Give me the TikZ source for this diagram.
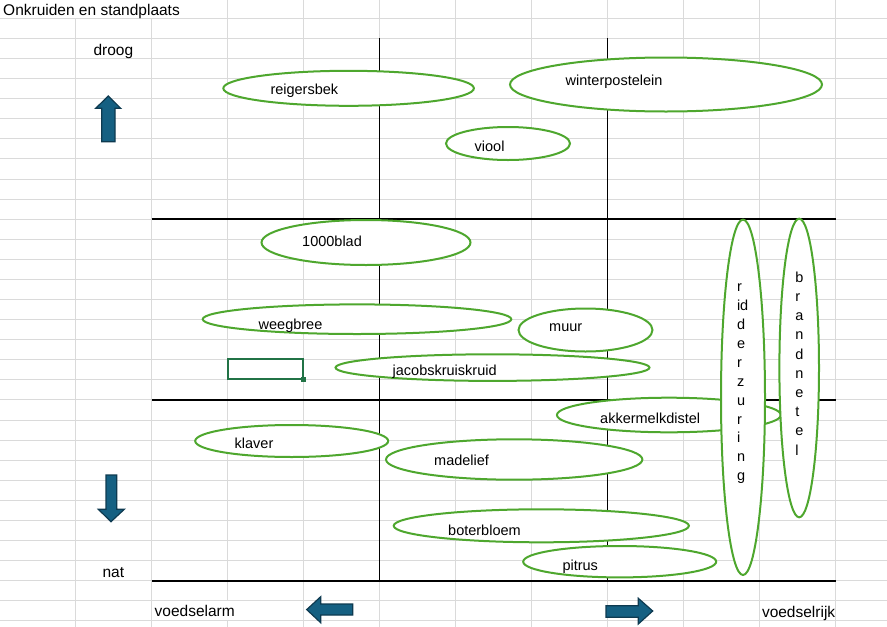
\documentclass[tikz,border=0pt]{standalone}
\usepackage{fontspec}
\setmainfont{Liberation Sans}
\newfontfamily\shapefont{Liberation Sans}
\usetikzlibrary{shapes.geometric}
\definecolor{gridc}{HTML}{DADADA}
\definecolor{leaf}{HTML}{4EA72E}
\definecolor{arrowfill}{HTML}{156082}
\definecolor{arrowline}{HTML}{0E3A50}
\definecolor{selgreen}{HTML}{217346}
\begin{document}
\begin{tikzpicture}[x=1pt,y=-1pt,
  gridline/.style={draw=gridc, line width=1pt},
  axisline/.style={draw=black, line width=2.2pt},
  divider/.style={draw=black, line width=1.3pt},
  weed/.style={ellipse, draw=leaf, fill=white, line width=2pt, inner sep=0pt, outer sep=0pt},
  weedtext/.style={anchor=base west, inner sep=0pt, font=\shapefont\fontsize{14.5}{18}\selectfont},
  celltext/.style={inner sep=0pt, font=\fontsize{15.5}{18}\selectfont},
  bigarrow/.style={fill=arrowfill, draw=arrowline, line width=1.2pt, line join=miter}
]
\useasboundingbox (0,0) rectangle (887,627);
% spreadsheet grid
\foreach \k in {0,...,30} \draw[gridline] (0,{18.4+20.08*\k}) -- (887,{18.4+20.08*\k});
\foreach \j in {2,...,10} \draw[gridline] ({75.6+76*\j},0) -- ({75.6+76*\j},627);
\foreach \j in {0,1} \draw[gridline] ({75.6+76*\j},18.4) -- ({75.6+76*\j},627);
\fill[white] (226.5,{18.4+20.08*29+0.6}) rectangle (228.7,{18.4+20.08*30-0.6});
% quadrant lines
\draw[divider] (379.6,{18.4+20.08}) -- (379.6,{18.4+20.08*28});
\draw[divider] (607.6,{18.4+20.08}) -- (607.6,{18.4+20.08*28});
\foreach \k in {10,19,28} \draw[axisline] (151.6,{18.4+20.08*\k}) -- (835.6,{18.4+20.08*\k});
% weeds
\node[weed, minimum width=250.6pt, minimum height=35pt] (reigersbek) at (348.6,88.3) {};
\node[weedtext] (reigersbek-t) at (270.3,94.5) {reigersbek};
\node[weed, minimum width=312pt, minimum height=54pt] (winterpostelein) at (666,84.5) {};
\node[weedtext] (winterpostelein-t) at (565.5,85) {winterpostelein};
\node[weed, minimum width=124pt, minimum height=33pt] (viool) at (508,143.5) {};
\node[weedtext] (viool-t) at (474.5,151.7) {viool};
\node[weed, minimum width=209pt, minimum height=45pt] (duizendblad) at (366,242.5) {};
\node[weedtext] (duizendblad-t) at (302,246.5) {1000blad};
\node[weed, minimum width=308.6pt, minimum height=29.6pt] (weegbree) at (357,319.2) {};
\node[weedtext] (weegbree-t) at (258.5,329) {weegbree};
\node[weed, minimum width=134pt, minimum height=43pt] (muur) at (585.5,330) {};
\node[weedtext] (muur-t) at (549,331.5) {muur};
\node[weed, minimum width=314pt, minimum height=26.6pt] (jacobs) at (492.5,367.6) {};
\node[weedtext] (jacobs-t) at (392.5,375) {jacobskruiskruid};
\node[weed, minimum width=224pt, minimum height=34.6pt] (akker) at (668.9,415) {};
\node[weedtext] (akker-t) at (600,423.3) {akkermelkdistel};
\node[weed, minimum width=193pt, minimum height=32pt] (klaver) at (291.7,441) {};
\node[weedtext] (klaver-t) at (234.5,448.3) {klaver};
\node[weed, minimum width=256.4pt, minimum height=40.4pt] (madelief) at (514.2,459.5) {};
\node[weedtext] (madelief-t) at (434,465) {madelief};
\node[weed, minimum width=295.2pt, minimum height=33pt] (boterbloem) at (541.3,525.8) {};
\node[weedtext] (boterbloem-t) at (448,535) {boterbloem};
\node[weed, minimum width=193pt, minimum height=31.4pt] (pitrus) at (619.7,561.7) {};
\node[weedtext] (pitrus-t) at (562.3,570.7) {pitrus};
\node[weed, minimum width=44pt, minimum height=355.4pt] (ridderzuring) at (743,397.3) {};
\foreach \l [count=\i] in {r,id,d,e,r,z,u,r,i,n,g}
  \node[weedtext] (rz\i) at (736.8,{291.7+18.9*(\i-1)}) {\l};
\node[weed, minimum width=39.6pt, minimum height=298.6pt] (brandnetel) at (799.2,368) {};
\foreach \l [count=\i] in {b,r,a,n,d,n,e,t,e,l}
  \node[weedtext] (bn\i) at (795.2,{282.3+19.19*(\i-1)}) {\l};
% selected cell
\draw[selgreen, line width=2pt] (227.6,359.3) rectangle (303.4,379);
\fill[selgreen] (301,377) rectangle (306,382);
% block arrows
\draw[bigarrow] (108.3,96) -- (120.7,108.3) -- (115,108.3) -- (115,141.7) -- (101.7,141.7) -- (101.7,108.3) -- (95.7,108.3) -- cycle;
\draw[bigarrow] (106,475) -- (116.7,475) -- (116.7,509.3) -- (124.3,509.3) -- (111,521.7) -- (98.3,509.3) -- (106,509.3) -- cycle;
\draw[bigarrow] (306.7,609.6) -- (320.7,596.7) -- (320.7,604) -- (352.7,604) -- (352.7,615) -- (320.7,615) -- (320.7,622.7) -- cycle;
\draw[bigarrow] (606,605.7) -- (638.3,605.7) -- (638.3,598.3) -- (652.7,611) -- (638.3,624) -- (638.3,617.3) -- (606,617.3) -- cycle;
% cell texts
\node[celltext, anchor=base west] (title) at (3,15) {Onkruiden en standplaats};
\node[celltext, anchor=base] (droog) at (113.4,55) {droog};
\node[celltext, anchor=base] (nat) at (113.4,577) {nat};
\node[celltext, anchor=base west] (arm) at (154.5,616.7) {voedselarm};
\node[celltext, anchor=base west] (rijk) at (761.8,617.3) {voedselrijk};
\end{tikzpicture}
\end{document}
